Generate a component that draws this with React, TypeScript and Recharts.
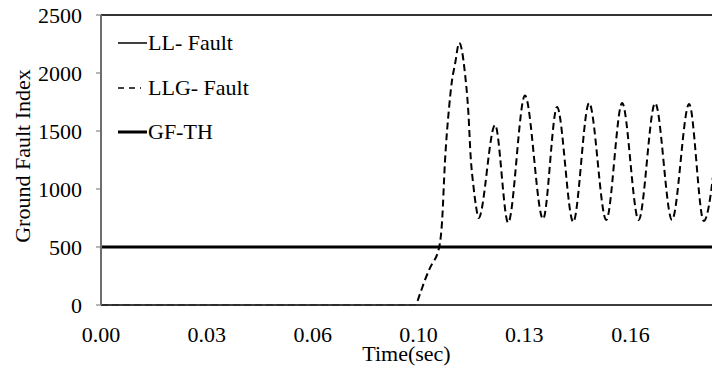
import { LineChart, Line, XAxis, YAxis, ReferenceLine, Legend } from 'recharts'

const FONT = '"Liberation Serif", "Times New Roman", Times, serif'

// LLG fault: ground fault index vs time (sec)
const LLG_TIME = [
  0, 0.0989, 0.1005, 0.102, 0.1036, 0.1065, 0.1074, 0.1083, 0.1096, 0.1105, 0.1115, 0.1128,
  0.1146, 0.1157, 0.1164, 0.1173, 0.1181, 0.1189, 0.1241, 0.1282, 0.1335, 0.1392, 0.1436,
  0.1487, 0.1537, 0.1591, 0.1641, 0.1693, 0.1745, 0.1798, 0.1852, 0.1898, 0.195,
]
const LLG_VALUES = [
  0, 0, 100, 215, 320, 500, 720, 1230, 1700, 1930, 2080, 2260,
  2000, 1650, 1280, 1020, 850, 750, 1552, 710, 1806, 741, 1707,
  716, 1741, 733, 1741, 733, 1741, 733, 1733, 724, 1730,
]

// LL fault stays at zero, GF threshold flat at 500
const LL_TIME = [0, 0.2]
const LL_VALUES = [0, 0]
const TH_TIME = [0, 0.2]
const TH_VALUES = [500, 500]

const SERIES_NAMES = ['LL- Fault', 'LLG- Fault', 'GF-TH']

const Y_TICKS = [0, 500, 1000, 1500, 2000, 2500]
const MAJOR_TICKS = [0, 0.0333, 0.0667, 0.1, 0.1333, 0.1667]
const TICK_LABELS = ['0.00', '0.03', '0.06', '0.10', '0.13', '0.16']
const X_MAX = 0.1924

// minor tick every 1 ms, like the category ticks of the source plot
const MINOR_TICKS = Array.from({ length: 193 }, (_, i) => i / 1000)

const llgData = LLG_TIME.map((t, i) => ({ t, v: LLG_VALUES[i] }))
const llData = LL_TIME.map((t, i) => ({ t, v: LL_VALUES[i] }))
const thData = TH_TIME.map((t, i) => ({ t, v: TH_VALUES[i] }))

function LegendBox() {
  const styles = [
    { width: 1.5, dash: undefined },
    { width: 1.6, dash: '6 5' },
    { width: 3, dash: undefined },
  ]
  return (
    <div style={{ fontFamily: FONT, fontSize: 22, color: '#000' }}>
      {SERIES_NAMES.map((name, i) => (
        <div key={name} style={{ display: 'flex', alignItems: 'center', height: 44.5 }}>
          <svg width={30} height={10} style={{ flexShrink: 0 }}>
            <line
              x1={0}
              x2={i === 1 ? 23 : 29}
              y1={5}
              y2={5}
              stroke="#000"
              strokeWidth={styles[i].width}
              strokeDasharray={styles[i].dash}
            />
          </svg>
          <span style={{ lineHeight: '44.5px', whiteSpace: 'nowrap' }}>{name}</span>
        </div>
      ))}
    </div>
  )
}

export default function App() {
  return (
    <div style={{ position: 'absolute', left: 0, top: 0, width: 712, height: 368, background: '#fff' }}>
      <LineChart width={712} height={368} margin={{ top: 15, right: 0, bottom: 0, left: 0 }}>
        {/* minor tick marks only, zero height so it sits right on the plot bottom */}
        <XAxis
          xAxisId="minor"
          type="number"
          dataKey="t"
          domain={[0, X_MAX]}
          allowDataOverflow
          ticks={MINOR_TICKS}
          interval={0}
          tick={false}
          tickLine={{ stroke: '#a0a0a0', strokeWidth: 1 }}
          tickSize={6}
          height={0}
          axisLine={false}
        />
        <XAxis
          type="number"
          dataKey="t"
          domain={[0, X_MAX]}
          allowDataOverflow
          ticks={MAJOR_TICKS}
          interval={0}
          tickFormatter={(v: number) => TICK_LABELS[MAJOR_TICKS.indexOf(v)]}
          tick={{ fontSize: 22, fontFamily: FONT, fill: '#000' }}
          tickLine={false}
          tickSize={6}
          tickMargin={15}
          height={63}
          axisLine={{ stroke: '#3c3c3c', strokeWidth: 1.5 }}
          label={{
            value: 'Time(sec)',
            position: 'insideBottom',
            offset: 7,
            fontSize: 22,
            fontFamily: FONT,
            fill: '#000',
          }}
        />
        <YAxis
          type="number"
          domain={[0, 2500]}
          ticks={Y_TICKS}
          width={101}
          tickSize={5}
          tickMargin={14}
          tick={{ fontSize: 22, fontFamily: FONT, fill: '#000' }}
          tickLine={{ stroke: '#6e6e6e' }}
          axisLine={{ stroke: '#6e6e6e', strokeWidth: 2 }}
          label={{
            value: 'Ground Fault Index',
            angle: -90,
            position: 'center',
            dx: -28,
            dy: -4,
            fontSize: 22,
            fontFamily: FONT,
            fill: '#000',
          }}
        />
        <ReferenceLine y={2500} stroke="#333" strokeWidth={2} />
        <Line
          data={llData}
          dataKey="v"
          name={SERIES_NAMES[0]}
          type="linear"
          stroke="#000"
          strokeWidth={1.5}
          dot={false}
          activeDot={false}
          isAnimationActive={false}
        />
        <Line
          data={llgData}
          dataKey="v"
          name={SERIES_NAMES[1]}
          type="monotone"
          stroke="#000"
          strokeWidth={2}
          strokeDasharray="7 4"
          dot={false}
          activeDot={false}
          isAnimationActive={false}
        />
        <Line
          data={thData}
          dataKey="v"
          name={SERIES_NAMES[2]}
          type="linear"
          stroke="#000"
          strokeWidth={3}
          dot={false}
          activeDot={false}
          isAnimationActive={false}
        />
        <Legend
          layout="vertical"
          align="center"
          verticalAlign="middle"
          wrapperStyle={{ left: 118, top: 21, width: 'auto' }}
          content={() => <LegendBox />}
        />
      </LineChart>
    </div>
  )
}
